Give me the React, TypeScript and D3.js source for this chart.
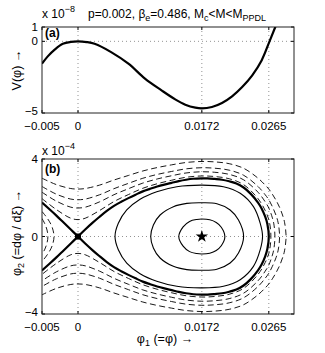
import React from 'react';
import * as d3 from 'd3';

const W = 325;
const H = 353;

// (a) potential V(phi), values in units of 1e-8
const potPhi = [-0.005, -0.0042, -0.0032, -0.0021, -0.001, 0, 0.0012, 0.0023, 0.0046, 0.007, 0.0093, 0.0116, 0.0135, 0.0149, 0.0163, 0.0172, 0.0186, 0.02, 0.0214, 0.0228, 0.0242, 0.0255, 0.0266, 0.0274, 0.0279];
const potVal = [-1.56, -1.05, -0.56, -0.17, -0.04, 0, -0.05, -0.17, -0.75, -1.56, -2.6, -3.42, -4.05, -4.42, -4.63, -4.68, -4.58, -4.3, -3.84, -3.19, -2.37, -1.33, 0, 1.0, 1.6];

// (b) phase portrait, phi2 in units of 1e-4 (upper halves, lower halves are mirror images)
const sepLeftPhi = [-0.005, -0.004, -0.003, -0.002, -0.001, 0];
const sepLeftVal = [1.75, 1.42, 1.08, 0.72, 0.36, 0];
const sepRightPhi = [0, 0.001, 0.002, 0.003, 0.004, 0.005, 0.006, 0.007, 0.008, 0.009, 0.01, 0.011, 0.012, 0.013, 0.014, 0.015, 0.016, 0.0172, 0.018, 0.019, 0.02, 0.021, 0.022, 0.023, 0.024, 0.025, 0.0255, 0.026, 0.0263, 0.0265];
const sepRightVal = [0, 0.36, 0.7, 1.02, 1.32, 1.58, 1.79, 1.98, 2.16, 2.33, 2.46, 2.58, 2.68, 2.77, 2.86, 2.93, 2.98, 3.0, 3.0, 2.97, 2.93, 2.85, 2.74, 2.53, 2.2, 1.75, 1.45, 1.02, 0.65, 0];

const orbit1Phi = [0.014, 0.0146, 0.0155, 0.0165, 0.0172, 0.0183, 0.0192, 0.0199, 0.0204];
const orbit1Val = [0, 0.5, 0.78, 0.88, 0.9, 0.86, 0.72, 0.48, 0];
const orbit2Phi = [0.0101, 0.01047, 0.0114, 0.01325, 0.01511, 0.0172, 0.01929, 0.02113, 0.02229, 0.023];
const orbit2Val = [0, 0.59, 1.11, 1.54, 1.71, 1.74, 1.69, 1.37, 0.85, 0];
const orbit3Phi = [0.00514, 0.0056, 0.00677, 0.00862, 0.01094, 0.01373, 0.0172, 0.0202, 0.02253, 0.02437, 0.02531, 0.02563];
const orbit3Val = [0, 0.68, 1.37, 1.92, 2.31, 2.57, 2.65, 2.57, 2.23, 1.54, 0.68, 0];

const openPhi = [-0.005, -0.003, -0.001, 0, 0.001, 0.003, 0.005, 0.007, 0.009, 0.011, 0.013, 0.015, 0.0172, 0.019, 0.021, 0.023, 0.025, 0.026, 0.0265];
const open1Phi = [...openPhi, 0.0267, 0.02679];
const open1Val = [1.955, 1.388, 0.943, 0.872, 0.943, 1.342, 1.805, 2.163, 2.488, 2.723, 2.904, 3.057, 3.124, 3.095, 2.98, 2.676, 1.955, 1.342, 0.872, 0.49, 0];
const open2Phi = [...openPhi, 0.027, 0.0272, 0.02735];
const open2Val = [2.285, 1.824, 1.513, 1.47, 1.513, 1.789, 2.158, 2.466, 2.755, 2.969, 3.136, 3.278, 3.341, 3.314, 3.207, 2.926, 2.285, 1.789, 1.47, 0.96, 0.65, 0];
const open3Phi = [...openPhi, 0.027, 0.0275, 0.0278, 0.028];
const open3Val = [2.581, 2.183, 1.931, 1.897, 1.931, 2.154, 2.469, 2.742, 3.005, 3.203, 3.357, 3.491, 3.55, 3.524, 3.424, 3.162, 2.581, 2.154, 1.897, 1.536, 1.095, 0.707, 0];
const open4Phi = [...openPhi, 0.027, 0.0275, 0.028, 0.0285, 0.0287, 0.0289];
const open4Val = [3.01, 2.677, 2.476, 2.449, 2.476, 2.653, 2.915, 3.15, 3.381, 3.558, 3.698, 3.819, 3.873, 3.85, 3.758, 3.521, 3.01, 2.653, 2.449, 2.182, 1.871, 1.503, 1.0, 0.707, 0];

const wedge1Phi = [-0.005, -0.0046, -0.0043, -0.00418];
const wedge1Val = [0.93, 0.65, 0.33, 0];
const wedge2Phi = [-0.005, -0.0045, -0.004, -0.0036, -0.00333];
const wedge2Val = [1.29, 1.06, 0.79, 0.49, 0];

const xTicks = [-0.005, 0, 0.0172, 0.0265];
const xTickLabels = ['\u22120.005', '0', '0.0172', '0.0265'];
const xGrid = [0, 0.0172, 0.0265];
const yTicksA = [1, 0, -5];
const yTickLabelsA = ['1', '0', '\u22125'];
const yTicksB = [4, 0, -4];
const yTickLabelsB = ['4', '0', '\u22124'];

const FONT = '"Liberation Sans", Arial, Helvetica, sans-serif';

type P = [number, number];
const zip = (a: number[], b: number[]): P[] => a.map((v, i) => [v, b[i]]);
// closed orbit: upper half then mirrored lower half
const loop = (a: number[], b: number[]): P[] => {
  const up = zip(a, b);
  return [...up, ...up.slice(1, -1).reverse().map(([p, v]) => [p, -v] as P)];
};
// open orbit through its turning point
const uTurn = (a: number[], b: number[]): P[] => {
  const up = zip(a, b);
  return [...up, ...up.slice(0, -1).reverse().map(([p, v]) => [p, -v] as P)];
};

export default function App() {
  const x = d3.scaleLinear().domain([-0.005, 0.03]).range([42, 294]);
  const yA = d3.scaleLinear().domain([-5, 1]).range([113, 27]);
  const yB = d3.scaleLinear().domain([-4, 4]).range([314, 159]);

  const lineA = d3.line<P>().x(d => x(d[0])).y(d => yA(d[1])).curve(d3.curveCatmullRom.alpha(0.5));
  const lineB = d3.line<P>().x(d => x(d[0])).y(d => yB(d[1])).curve(d3.curveCatmullRom.alpha(0.5));
  const loopB = d3.line<P>().x(d => x(d[0])).y(d => yB(d[1])).curve(d3.curveCatmullRomClosed.alpha(0.5));

  const [xl, xr] = x.range();
  const star = d3.symbol().type(d3.symbolStar).size(48)();

  const frame = (y: d3.ScaleLinear<number, number>, yt: number[], ylab: string[]) => {
    const [yb, ytop] = y.range();
    return (
      <g>
        {xGrid.map(t => (
          <line key={'gx' + t} x1={x(t)} x2={x(t)} y1={ytop} y2={yb} stroke="#777" strokeWidth={0.8} strokeDasharray="1,3" />
        ))}
        <line x1={xl} x2={xr} y1={y(0)} y2={y(0)} stroke="#777" strokeWidth={0.8} strokeDasharray="1,3" />
        {xTicks.map((t, i) => (
          <g key={'xt' + t}>
            <line x1={x(t)} x2={x(t)} y1={yb} y2={yb - 3} stroke="#000" />
            <line x1={x(t)} x2={x(t)} y1={ytop} y2={ytop + 3} stroke="#000" />
            <text x={x(t)} y={yb + 16.5} textAnchor="middle" fontSize={11.5}>{xTickLabels[i]}</text>
          </g>
        ))}
        {yt.map((t, i) => (
          <g key={'yt' + t}>
            <line x1={xl} x2={xl + 3} y1={y(t)} y2={y(t)} stroke="#000" />
            <line x1={xr} x2={xr - 3} y1={y(t)} y2={y(t)} stroke="#000" />
            <text x={xl - 4} y={y(t)} dy={t < 0 ? '0.2em' : '0.35em'} textAnchor="end" fontSize={11.5}>{ylab[i]}</text>
          </g>
        ))}
      </g>
    );
  };

  return (
    <svg width={W} height={H} style={{ position: 'absolute', left: 0, top: 0, background: '#fff' }} fontFamily={FONT}>
      <defs>
        <clipPath id="clipA"><rect x={xl} y={27} width={xr - xl} height={86} /></clipPath>
        <clipPath id="clipB"><rect x={xl} y={159} width={xr - xl} height={155} /></clipPath>
      </defs>

      {/* panel (a) */}
      {frame(yA, yTicksA, yTickLabelsA)}
      <path d={lineA(zip(potPhi, potVal)) || ''} fill="none" stroke="#000" strokeWidth={2.2} clipPath="url(#clipA)" />
      <rect x={xl} y={27} width={xr - xl} height={86} fill="none" stroke="#222" strokeWidth={1} />
      <text x={45} y={37} fontSize={12} fontWeight="bold">(a)</text>
      <text x={42} y={18} fontSize={12}>x 10<tspan dy={-6} fontSize={9}>{'\u22128'}</tspan></text>
      <text x={88} y={18} fontSize={12}>
        p=0.002, β<tspan dy={3} fontSize={9}>e</tspan>
        <tspan dy={-3}>=0.486, M</tspan><tspan dy={3} fontSize={9}>c</tspan>
        <tspan dy={-3}>{'<M<M'}</tspan><tspan dy={3} fontSize={9}>PPDL</tspan>
      </text>
      <text transform="translate(21,70) rotate(-90)" textAnchor="middle" fontSize={12.5}>V(φ) →</text>

      {/* panel (b) */}
      {frame(yB, yTicksB, yTickLabelsB)}
      <g clipPath="url(#clipB)" fill="none" stroke="#000">
        {[open1Phi, open2Phi, open3Phi, open4Phi].map((ph, i) => (
          <path key={'o' + i} d={lineB(uTurn(ph, [open1Val, open2Val, open3Val, open4Val][i])) || ''} strokeWidth={0.9} strokeDasharray="6,3.5" />
        ))}
        <path d={lineB(uTurn(wedge1Phi, wedge1Val)) || ''} strokeWidth={0.9} strokeDasharray="6,3.5" />
        <path d={lineB(uTurn(wedge2Phi, wedge2Val)) || ''} strokeWidth={0.9} strokeDasharray="6,3.5" />
        <path d={loopB(loop(orbit1Phi, orbit1Val)) || ''} strokeWidth={1.1} />
        <path d={loopB(loop(orbit2Phi, orbit2Val)) || ''} strokeWidth={1.1} />
        <path d={loopB(loop(orbit3Phi, orbit3Val)) || ''} strokeWidth={1.1} />
        <path d={lineB(uTurn(sepRightPhi, sepRightVal)) || ''} strokeWidth={2.2} />
        <path d={lineB(zip(sepLeftPhi, sepLeftVal)) || ''} strokeWidth={2.2} />
        <path d={lineB(zip(sepLeftPhi, sepLeftVal.map(v => -v))) || ''} strokeWidth={2.2} />
      </g>
      <rect x={x(0) - 3} y={yB(0) - 3} width={6} height={6} fill="#000" />
      <path d={star || ''} transform={`translate(${x(0.0172)},${yB(0)})`} fill="#000" />
      <rect x={xl} y={159} width={xr - xl} height={155} fill="none" stroke="#222" strokeWidth={1} />
      <text x={45} y={173} fontSize={12} fontWeight="bold">(b)</text>
      <text x={42} y={155} fontSize={12}>x 10<tspan dy={-6} fontSize={9}>{'\u22124'}</tspan></text>
      <text x={165} y={343} textAnchor="middle" fontSize={12.5}>
        φ<tspan dy={3} fontSize={9}>1</tspan><tspan dy={-3}> (=φ) →</tspan>
      </text>
      <text transform="translate(21,233) rotate(-90)" textAnchor="middle" fontSize={12.5}>
        φ<tspan dy={3} fontSize={9}>2</tspan><tspan dy={-3}> (=dφ / dξ) →</tspan>
      </text>
    </svg>
  );
}
